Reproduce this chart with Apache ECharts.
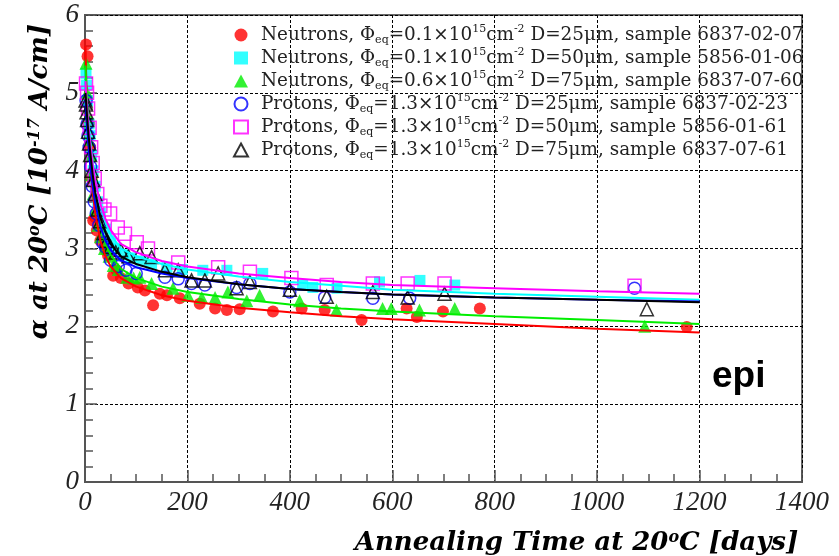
<!DOCTYPE html>
<html><head><meta charset="utf-8">
<script src="https://cdn.jsdelivr.net/npm/echarts@6/dist/echarts.min.js"></script>
<style>html,body{margin:0;padding:0;background:#fff}#c{width:839px;height:556px}</style>
</head><body><div id="c"></div>
<script>
// ---- data: [annealing time (days), alpha (1e-17 A/cm)] ----
const neutrons25 = [[2,5.62],[5,5.47],[8,4.6],[10,4.3],[13,3.9],[16,3.36],[20,3.4],[23,3.23],[30,3.1],[40,2.98],[45,2.91],[55,2.65],[62,2.72],[70,2.62],[85,2.55],[103,2.50],[117,2.46],[133,2.27],[146,2.42],[160,2.40],[185,2.36],[224,2.29],[254,2.23],[277,2.21],[302,2.22],[367,2.19],[423,2.23],[468,2.21],[540,2.08],[628,2.23],[648,2.12],[699,2.19],[771,2.23],[1175,1.99]];
const neutrons50 = [[2,5.25],[3,5.1],[5,4.9],[8,4.6],[10,4.45],[13,4.2],[16,4.0],[20,3.8],[25,3.6],[30,3.45],[40,3.25],[50,3.1],[60,3.0],[75,2.92],[90,2.88],[110,2.84],[130,2.8],[160,2.76],[190,2.73],[230,2.72],[277,2.72],[347,2.68],[425,2.53],[445,2.50],[492,2.49],[575,2.57],[654,2.59],[722,2.53]];
const neutrons75 = [[2,5.38],[4,5.0],[6,4.7],[8,4.4],[10,4.2],[13,3.95],[16,3.7],[20,3.5],[25,3.3],[30,3.15],[38,3.0],[47,2.9],[55,2.78],[65,2.73],[82,2.63],[95,2.62],[107,2.63],[130,2.55],[172,2.49],[201,2.40],[228,2.37],[254,2.37],[279,2.44],[316,2.33],[341,2.40],[419,2.33],[491,2.21],[581,2.23],[598,2.23],[653,2.21],[722,2.23],[1093,2.00]];
const protons25 = [[2,4.9],[4,4.6],[6,4.45],[8,4.3],[11,4.05],[14,3.8],[18,3.6],[22,3.45],[27,3.3],[35,3.07],[40,3.02],[50,2.85],[65,2.77],[80,2.72],[100,2.68],[156,2.63],[182,2.61],[208,2.55],[234,2.53],[296,2.50],[322,2.55],[400,2.44],[468,2.37],[562,2.36],[634,2.36],[1073,2.49]];
const protons50 = [[2,5.12],[4,5.0],[6,4.8],[9,4.55],[12,4.3],[15,4.1],[19,3.9],[24,3.7],[30,3.55],[38,3.5],[49,3.45],[64,3.27],[78,3.19],[101,3.08],[123,3.0],[182,2.82],[260,2.76],[322,2.70],[403,2.62],[472,2.53],[562,2.55],[630,2.55],[702,2.55],[1073,2.52]];
const protons75 = [[1,4.9],[2,4.85],[3,4.75],[4,4.65],[6,4.5],[8,4.35],[10,4.2],[13,4.0],[16,3.88],[20,3.7],[25,3.5],[30,3.35],[36,3.2],[43,3.1],[50,3.02],[60,2.95],[70,2.98],[85,2.9],[107,2.94],[130,2.89],[156,2.72],[182,2.72],[208,2.59],[234,2.59],[260,2.68],[296,2.49],[322,2.57],[400,2.47],[472,2.38],[562,2.44],[630,2.37],[702,2.42],[1097,2.22]];

// fit curves at these times
const fitTimes = [1,2,4,7,10,15,20,30,40,50,70,100,150,200,300,400,500,600,800,1000,1200];
const fitN25 = [5.6,5.3,4.85,4.4,4.1,3.72,3.45,3.1,2.9,2.77,2.62,2.51,2.40,2.33,2.24,2.18,2.13,2.09,2.03,1.97,1.92];
const fitN50 = [5.2,5.05,4.85,4.6,4.4,4.1,3.88,3.55,3.33,3.18,3.0,2.9,2.8,2.73,2.64,2.57,2.52,2.47,2.42,2.38,2.34];
const fitN75 = [5.35,5.15,4.85,4.5,4.25,3.92,3.66,3.3,3.07,2.92,2.74,2.62,2.51,2.44,2.35,2.28,2.23,2.19,2.13,2.08,2.03];
const fitP25 = [4.9,4.75,4.55,4.3,4.08,3.8,3.58,3.28,3.1,2.98,2.85,2.76,2.68,2.62,2.54,2.48,2.44,2.41,2.37,2.34,2.32];
const fitP50 = [5.15,5.0,4.8,4.55,4.35,4.08,3.87,3.57,3.38,3.24,3.06,2.95,2.84,2.77,2.68,2.62,2.57,2.53,2.49,2.45,2.42];
const fitP75 = [5.0,4.9,4.7,4.45,4.25,3.95,3.72,3.40,3.20,3.06,2.90,2.80,2.70,2.63,2.54,2.48,2.44,2.41,2.37,2.34,2.31];

const seriesNames = [
  'Neutrons, Φeq=0.1×10^15cm^-2 D=25μm, sample 6837-02-07',
  'Neutrons, Φeq=0.1×10^15cm^-2 D=50μm, sample 5856-01-06',
  'Neutrons, Φeq=0.6×10^15cm^-2 D=75μm, sample 6837-07-60',
  'Protons, Φeq=1.3×10^15cm^-2 D=25μm, sample 6837-02-23',
  'Protons, Φeq=1.3×10^15cm^-2 D=50μm, sample 5856-01-61',
  'Protons, Φeq=1.3×10^15cm^-2 D=75μm, sample 6837-07-61'
];
const legendRich = [
  'Neutrons, Φ{sub|eq}=0.1×10{sup|15}cm{sup|-2} D=25μm, sample 6837-02-07',
  'Neutrons, Φ{sub|eq}=0.1×10{sup|15}cm{sup|-2} D=50μm, sample 5856-01-06',
  'Neutrons, Φ{sub|eq}=0.6×10{sup|15}cm{sup|-2} D=75μm, sample 6837-07-60',
  'Protons, Φ{sub|eq}=1.3×10{sup|15}cm{sup|-2} D=25μm, sample 6837-02-23',
  'Protons, Φ{sub|eq}=1.3×10{sup|15}cm{sup|-2} D=50μm, sample 5856-01-61',
  'Protons, Φ{sub|eq}=1.3×10{sup|15}cm{sup|-2} D=75μm, sample 6837-07-61'
];

const pointSets = [neutrons25, neutrons50, neutrons75, protons25, protons50, protons75];
const fitSets = [fitN25, fitN50, fitN75, fitP25, fitP50, fitP75];
const colors = ['#ff0000', '#00ffff', '#00ee00', '#0000ff', '#ff00ff', '#000000'];
const symbols = ['circle', 'rect', 'triangle', 'circle', 'rect', 'triangle'];
const filled = [true, true, true, false, false, false];
const sizes = [12, 11, 13, 12, 13, 13];

const series = [];
pointSets.forEach((d, i) => {
  series.push({
    type: 'scatter', name: seriesNames[i], data: d,
    symbol: symbols[i], symbolSize: sizes[i], z: 3,
    itemStyle: filled[i] ? { color: colors[i] } :
      { color: 'rgba(255,255,255,0)', borderColor: colors[i], borderWidth: 1.5 }
  });
});
fitSets.forEach((f, i) => {
  series.push({
    type: 'line', name: 'fit' + i, data: fitTimes.map((t, k) => [t, f[k]]),
    showSymbol: false, silent: true, z: 4,
    lineStyle: { color: colors[i], width: 2 }
  });
});

const serif = 'DejaVu Serif';
const tickFont = 'Liberation Serif';
const supStyle = { fontFamily: serif, fontStyle: 'italic', fontWeight: 'bold', fontSize: 16, color: '#000', verticalAlign: 'top', lineHeight: 14 };
const chart = echarts.init(document.getElementById('c'));
chart.setOption({
  animation: false,
  backgroundColor: '#fff',
  title: { text: 'epi', left: 712, top: 358, padding: 0,
    textStyle: { fontFamily: 'Liberation Sans', fontWeight: 'bold', fontSize: 37, color: '#000' } },
  grid: { left: 85, top: 15, width: 717, height: 467, show: true, borderColor: '#666', borderWidth: 2,
    containLabel: false, outerBoundsMode: 'none' },
  legend: {
    data: seriesNames, orient: 'vertical', left: 233, top: 24, padding: 0,
    itemWidth: 14, itemHeight: 13, itemGap: 1,
    formatter: name => legendRich[seriesNames.indexOf(name)],
    textStyle: { fontFamily: serif, fontSize: 18.4, color: '#222', lineHeight: 22, padding: [0, 0, 0, 8],
      rich: {
        sub: { fontFamily: serif, fontSize: 11, color: '#222', lineHeight: 10, verticalAlign: 'bottom' },
        sup: { fontFamily: serif, fontSize: 11, color: '#222', lineHeight: 10, verticalAlign: 'top' }
      } }
  },
  xAxis: {
    type: 'value', min: 0, max: 1400, interval: 200,
    name: 'Annealing Time at 20{sup|o}C [days]', nameLocation: 'middle', nameGap: 48,
    nameTextStyle: { fontFamily: serif, fontStyle: 'italic', fontWeight: 'bold', fontSize: 26, color: '#000',
      padding: [0, 0, 0, 266], rich: { sup: supStyle } },
    axisLine: { show: true, lineStyle: { color: '#555', width: 2 } },
    axisTick: { show: true, inside: true, length: 12, lineStyle: { color: '#555', width: 1.5 } },
    minorTick: { show: true, splitNumber: 4, length: 8, lineStyle: { color: '#555', width: 1.5 } },
    axisLabel: { fontFamily: tickFont, fontStyle: 'italic', fontSize: 27, color: '#222', margin: 7,
      formatter: v => String(v) },
    splitLine: { show: true, lineStyle: { color: '#000', type: [3, 2], width: 1 } }
  },
  yAxis: {
    type: 'value', min: 0, max: 6, interval: 1,
    name: 'α at 20{sup|o}C [10{sup|-17} A/cm]', nameLocation: 'middle', nameRotate: 90, nameGap: 32,
    nameTextStyle: { fontFamily: serif, fontStyle: 'italic', fontWeight: 'bold', fontSize: 26, color: '#000',
      padding: [0, 0, 0, 134], rich: { sup: supStyle } },
    axisLine: { show: true, lineStyle: { color: '#555', width: 2 } },
    axisTick: { show: true, inside: true, length: 12, lineStyle: { color: '#555', width: 1.5 } },
    minorTick: { show: true, splitNumber: 5, length: 8, lineStyle: { color: '#555', width: 1.5 } },
    axisLabel: { fontFamily: tickFont, fontStyle: 'italic', fontSize: 27, color: '#222', margin: 6,
      formatter: v => String(v) },
    splitLine: { show: true, lineStyle: { color: '#000', type: [3, 2], width: 1 } }
  },
  series: series
});
</script></body></html>
